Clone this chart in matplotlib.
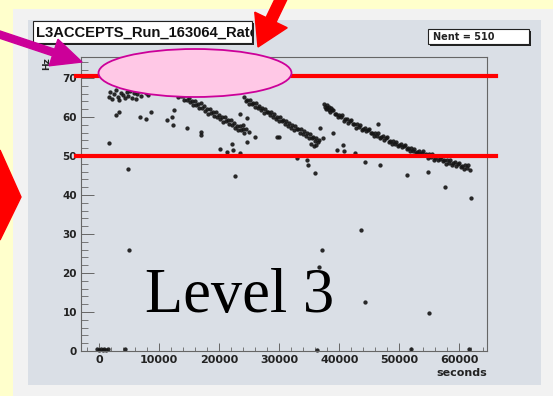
import matplotlib.pyplot as plt
import matplotlib.patches as mpatches
from matplotlib.transforms import Affine2D
from matplotlib.ticker import MultipleLocator

W, H = 553, 396

title = "L3ACCEPTS_Run_163064_Rate"
nent = "Nent = 510"
xticks = [0, 10000, 20000, 30000, 40000, 50000, 60000]
yticks = [0, 10, 20, 30, 40, 50, 60, 70]
limits = [70.5, 50]

# first fill (mostly hidden under the ellipse)
b1_x = [1600, 1900, 2200, 2500, 2800, 3100, 3400, 3700, 4000, 4300, 4600, 4900, 5200,
        5500, 5800, 6100, 6400, 6700, 7000, 7400, 7800, 8200, 8600, 9000, 9500, 10000,
        3000, 5000, 7000, 9000]
b1_y = [65.2, 66.4, 64.6, 65.8, 66.9, 65.1, 64.3, 66.2, 65.7, 64.9, 66.5, 65.4, 66.8,
        65.0, 66.1, 64.7, 65.9, 66.6, 65.3, 67.0, 66.2, 65.6, 67.2, 66.4, 67.5, 66.9,
        68.2, 68.5, 68.0, 68.4]

# second fill
b2_x = [12400, 12650, 12900, 13150, 13400, 13650, 13900, 14150, 14400, 14650, 14900,
        15150, 15400, 15650, 15900, 16150, 16400, 16650, 16900, 17150, 17400, 17650,
        17900, 18150, 18400, 18650, 18900, 19150, 19400, 19650, 19900, 20150, 20400,
        20650, 20900, 21150, 21400, 21650, 21900, 22150, 22400, 22650, 22900, 23150,
        23400, 23650, 23900, 24150, 24400]
b2_y = [67.0, 65.9, 66.3, 65.2, 66.2, 65.3, 65.5, 64.5, 65.6, 64.3, 64.9,
        63.8, 64.1, 63.0, 64.1, 63.2, 63.4, 62.4, 63.5, 62.2, 62.8, 61.6,
        62.0, 60.9, 62.0, 61.1, 61.3, 60.3, 61.4, 60.0, 60.6, 59.5, 59.9,
        58.8, 59.9, 59.0, 59.2, 58.1, 59.2, 57.9, 58.5, 57.3, 57.8, 56.7,
        57.8, 56.8, 57.0, 56.0, 56.9]

# third fill
b3_x = [24200, 24450, 24700, 24950, 25200, 25450, 25700, 25950, 26200, 26450, 26700,
        26950, 27200, 27450, 27700, 27950, 28200, 28450, 28700, 28950, 29200, 29450,
        29700, 29950, 30200, 30450, 30700, 30950, 31200, 31450, 31700, 31950, 32200,
        32450, 32700, 32950, 33200, 33450, 33700, 33950, 34200, 34450, 34700, 34950,
        35200, 35450, 35700, 35950, 36200, 36450, 36700]
b3_y = [65.1, 64.0, 64.5, 63.3, 64.3, 63.4, 63.6, 62.6, 63.6, 62.3, 62.8,
        61.7, 62.3, 61.1, 62.1, 61.2, 61.4, 60.4, 61.3, 60.0, 60.7, 59.5,
        60.1, 59.0, 59.9, 59.0, 59.3, 58.2, 59.1, 57.8, 58.5, 57.3, 57.9,
        56.8, 57.8, 56.9, 57.0, 56.0, 56.9, 55.6, 56.3, 55.1, 55.8, 54.7,
        55.6, 54.7, 54.8, 53.8, 54.7, 53.5, 54.0]

# fourth fill
b4_x = [37500, 37750, 38000, 38250, 38500, 38750, 39000, 39250, 39500, 39750, 40000,
        40250, 40500, 40750, 41000, 41250, 41500, 41750, 42000, 42250, 42500, 42750,
        43000, 43250, 43500, 43750, 44000, 44250, 44500, 44750, 45000, 45250, 45500,
        45750, 46000, 46250, 46500, 46750, 47000, 47250, 47500, 47750, 48000, 48250,
        48500, 48750, 49000, 49250, 49500, 49750, 50000, 50250, 50500, 50750, 51000,
        51250, 51500, 51750, 52000, 52250, 52500, 52750, 53000, 53250, 53500, 53750,
        54000, 54250, 54500, 54750, 55000, 55250, 55500, 55750, 56000, 56250, 56500,
        56750, 57000, 57250, 57500, 57750, 58000, 58250, 58500, 58750, 59000, 59250,
        59500, 59750, 60000, 60250, 60500, 60750, 61000, 61250, 61500, 61750,
        37600, 37900, 38300, 38700]
b4_y = [63.3, 62.0, 62.2, 62.5, 61.4, 61.7, 61.9, 60.8, 60.8, 59.9, 60.6,
        59.9, 60.4, 59.1, 59.4, 59.6, 58.6, 58.9, 59.2, 58.1, 58.2, 57.3,
        58.2, 57.5, 58.0, 56.7, 57.0, 57.3, 56.3, 56.6, 57.0, 55.9, 56.0,
        55.1, 55.9, 55.2, 55.8, 54.5, 54.8, 55.1, 54.2, 54.5, 54.8, 53.7,
        53.9, 53.0, 53.9, 53.2, 53.7, 52.5, 52.8, 53.2, 52.2, 52.6, 52.9,
        51.9, 52.0, 51.2, 52.0, 51.4, 51.9, 50.7, 51.1, 51.4, 50.5, 50.8,
        51.2, 50.2, 50.4, 49.5, 50.4, 49.8, 50.4, 49.1, 49.5, 49.9, 49.0,
        49.3, 49.7, 48.7, 48.9, 48.0, 48.9, 48.3, 48.9, 47.7, 48.1, 48.4,
        47.5, 47.9, 48.3, 47.3, 47.5, 46.7, 47.6, 47.0, 47.6, 46.4,
        62.6, 63.0, 61.8, 62.3]

# isolated points
iso_x = [3270, 2830, 6820, 7820, 8650, 11260, 12150, 12480, 12260, 14590, 16970, 16970,
         1610, 4770, 23460, 24000, 24570, 22080, 20130, 21240, 22350, 23460, 22630,
         25960, 29570, 29900, 24600, 24900, 36770, 34560, 34800, 35940, 32900, 35300,
         35800, 36200, 37300, 38960, 39550, 40600, 40770, 42600, 46470, 44260, 46760,
         51300, 54800, 57570, 61900, 4940, 43600, 37200, 36600, 44250, 55000,
         -300, 0, 300, 600, 900, 1200, 1500, 4330, 36350, 51900, 61600]
iso_y = [61.4, 60.5, 60.1, 59.5, 61.4, 59.2, 60.1, 61.8, 58.0, 57.3, 56.2, 55.4,
         53.4, 46.6, 60.9, 58.0, 59.7, 53.1, 51.8, 51.1, 51.5, 50.8, 44.9,
         55.0, 55.0, 55.0, 53.7, 56.2, 57.1, 49.0, 47.7, 45.7, 49.6, 53.2,
         52.5, 52.8, 54.6, 55.8, 51.5, 52.8, 51.4, 50.9, 58.2, 48.5, 47.7,
         45.1, 46.0, 42.1, 39.2, 25.9, 31.0, 25.9, 21.6, 12.6, 9.8,
         0.5, 0.3, 0.5, 0.2, 0.6, 0.3, 0.4, 0.5, 0.3, 0.5, 0.5]

fig = plt.figure(figsize=(W / 100, H / 100), dpi=100)
fig.patch.set_facecolor('#FFFFCC')
# pixel coordinates measured from the top left corner
px = Affine2D().scale(1 / W, -1 / H).translate(0, 1) + fig.transFigure

fig.add_artist(mpatches.Rectangle((13, 9), 545, 392, transform=px,
                                  facecolor='#F2F2F2', edgecolor='none', zorder=-2))
fig.add_artist(mpatches.Rectangle((28, 20), 513, 365, transform=px,
                                  facecolor='#DADFE6', edgecolor='none', zorder=-1))

ax = fig.add_axes([81 / W, 1 - 351 / H, 406 / W, 294 / H])
ax.set_facecolor('#DADFE6')

for bx, by in [(b1_x, b1_y), (b2_x, b2_y), (b3_x, b3_y), (b4_x, b4_y), (iso_x, iso_y)]:
    ax.plot(bx, by, 'o', ms=3.1, color='#141414', mew=0, alpha=0.9, clip_on=False)

ax.set_xlim(-3000, 64600)
ax.set_ylim(0, 75.4)
ax.set_xticks(xticks)
ax.set_xticklabels([str(t) for t in xticks])
ax.set_yticks(yticks)
ax.xaxis.set_minor_locator(MultipleLocator(2000))
ax.yaxis.set_minor_locator(MultipleLocator(2))
for s in ax.spines.values():
    s.set_color('#666666')
    s.set_linewidth(0.8)
ax.tick_params(axis='y', which='major', direction='in', length=9, width=0.7,
               color='#666666', pad=3, labelsize=7.5, labelcolor='#222222')
ax.tick_params(axis='y', which='minor', direction='in', length=5, width=0.6, color='#666666')
ax.tick_params(axis='x', which='major', direction='in', length=5.5, width=0.7,
               color='#666666', pad=3, labelsize=8, labelcolor='#222222')
ax.tick_params(axis='x', which='minor', direction='in', length=3, width=0.6, color='#666666')
for lab in ax.get_xticklabels() + ax.get_yticklabels():
    lab.set_fontweight('bold')

# red threshold lines
for lv in limits:
    ax.axhline(lv, xmin=-0.012, xmax=1.022, color='#FF0000', lw=3, clip_on=False, zorder=5)

fig.text(487 / W, 1 - 373 / H, "seconds", ha='right', va='center', fontsize=8,
         fontweight='bold', color='#222222')
fig.text(47 / W, 1 - 64 / H, "Hz", ha='center', va='center', rotation=90, fontsize=6.5,
         fontweight='bold', color='#222222')

# title box (text cut at the box edge)
fig.add_artist(mpatches.Rectangle((35, 23), 219, 22, transform=px, facecolor='#222222',
                                  edgecolor='none', zorder=3))
tbox = mpatches.Rectangle((33, 21), 219, 22, transform=px, facecolor='white',
                          edgecolor='#222222', lw=0.8, zorder=3)
fig.add_artist(tbox)
t = fig.text(36 / W, 1 - 32.5 / H, title, ha='left', va='center', fontsize=10.6,
             fontweight='bold', family='Liberation Sans', color='#111111', zorder=4)
t.set_clip_path(tbox)

# entries box
fig.add_artist(mpatches.Rectangle((430, 31), 101, 15, transform=px, facecolor='#222222',
                                  edgecolor='none', zorder=3))
fig.add_artist(mpatches.Rectangle((428, 29), 101, 15, transform=px, facecolor='white',
                                  edgecolor='#222222', lw=0.8, zorder=3))
fig.text(433 / W, 1 - 36.5 / H, nent, ha='left', va='center', fontsize=7,
         fontweight='bold', color='#222222', zorder=4)

# slide annotations
fig.add_artist(mpatches.Ellipse((195, 73), 193, 48, transform=px, facecolor='#FFC8E6',
                                edgecolor='#CC0099', lw=1.3, zorder=6))
fig.add_artist(mpatches.FancyArrow(-5, 33, 87, 29, width=7, head_width=28, head_length=30,
                                   length_includes_head=True, transform=px,
                                   color='#CC0099', zorder=6))
fig.add_artist(mpatches.FancyArrow(283, -5, -25, 52, width=11, head_width=36,
                                   head_length=30, length_includes_head=True,
                                   transform=px, color='#FF0000', zorder=6))
fig.add_artist(mpatches.Polygon([(0, 150), (21, 197), (0, 240)], closed=True, transform=px,
                                color='#FF0000', zorder=6))

fig.text(145 / W, 1 - 312 / H, "Level 3", ha='left', va='baseline', fontsize=45,
         family='Liberation Serif', color='black', zorder=7)

fig.savefig('out.png', dpi=100, facecolor=fig.get_facecolor())
